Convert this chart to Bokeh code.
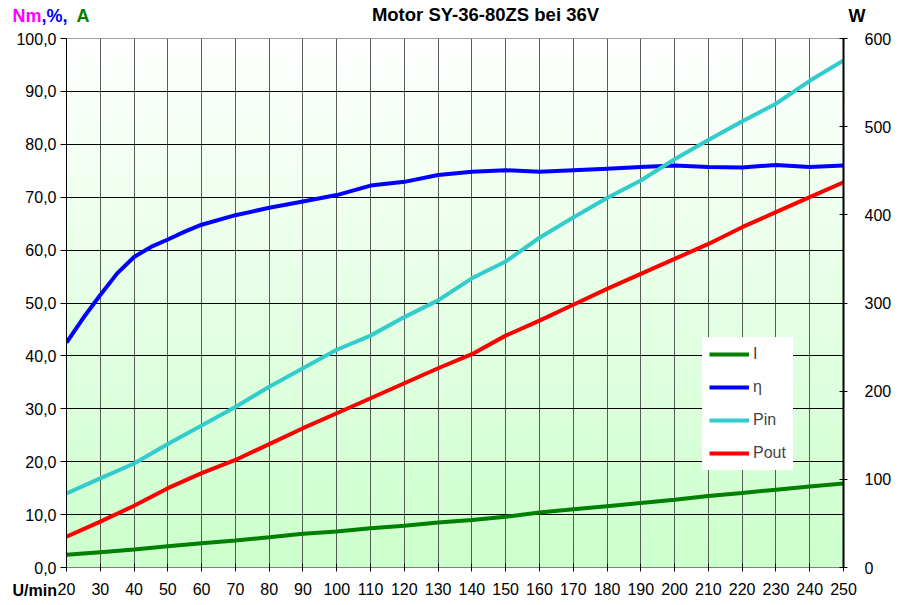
import numpy as np
from bokeh.plotting import figure
from bokeh.models import (Range1d, LinearAxis, SingleIntervalTicker, Legend, LegendItem)
from bokeh.core.properties import value
from bokeh.embed import file_html
from bokeh.resources import INLINE

# ---- data ----
rpm = [20, 30, 40, 50, 60, 70, 80, 90, 100, 110, 120, 130, 140, 150, 160, 170,
       180, 190, 200, 210, 220, 230, 240, 250]
current_A = [2.4, 2.9, 3.4, 4.0, 4.6, 5.1, 5.7, 6.4, 6.8, 7.4, 7.9, 8.5, 9.0, 9.6,
             10.4, 11.0, 11.6, 12.2, 12.8, 13.5, 14.1, 14.7, 15.3, 15.9]
eta_rpm = [20, 25, 30, 35, 40, 45, 50, 55, 60, 70, 80, 90, 100, 110, 120, 130, 140,
           150, 160, 170, 180, 190, 200, 210, 220, 230, 240, 250]
eta_pct = [42.5, 47.2, 51.5, 55.6, 58.7, 60.6, 62.0, 63.5, 64.8, 66.6, 68.0, 69.2,
           70.4, 72.2, 72.9, 74.2, 74.8, 75.1, 74.8, 75.1, 75.4, 75.7, 76.0, 75.7,
           75.6, 76.1, 75.7, 76.0]
pin_W = [84, 101, 118, 140, 161, 182, 205, 226, 247, 263, 284, 303, 328, 347, 374,
         397, 419, 439, 463, 485, 506, 526, 552, 575]
pout_W = [35, 52, 70, 90, 107, 122, 140, 158, 175, 192, 209, 226, 242, 263, 280,
          298, 316, 333, 350, 367, 386, 403, 420, 437]
left_ticks = [0, 10, 20, 30, 40, 50, 60, 70, 80, 90, 100]
left_tick_labels = ["0,0", "10,0", "20,0", "30,0", "40,0", "50,0", "60,0", "70,0",
                    "80,0", "90,0", "100,0"]
title_text = "Motor SY-36-80ZS bei 36V"

FONT = "Liberation Sans"
X0, X1 = 20, 250
Y0, Y1 = 0, 100
W0, W1 = 0, 600

W_PX, H_PX = 900, 605
B_LEFT, B_RIGHT, B_TOP, B_BOTTOM = 66, 57, 38, 38

p = figure(width=W_PX, height=H_PX, output_backend="svg", toolbar_location=None,
           x_range=Range1d(X0, X1), y_range=Range1d(Y0, Y1),
           min_border_left=B_LEFT, min_border_right=B_RIGHT, min_border_top=B_TOP,
           min_border_bottom=B_BOTTOM, title_location=None)
p.extra_y_ranges = {"W": Range1d(W0, W1)}
p.background_fill_color = "white"
p.border_fill_color = "white"
p.outline_line_color = "#808080"
p.outline_line_width = 1

# gradient background (white top -> light green bottom)
N = 200
img = np.empty((N, 1), dtype=np.uint32)
view = img.view(dtype=np.uint8).reshape((N, 1, 4))
t = np.linspace(0, 1, N)  # row 0 = bottom
top = np.array([255, 255, 255]); bot = np.array([204, 255, 204])
for i in range(N):
    c = bot + (top - bot) * t[i]
    view[i, 0, 0] = int(c[0]); view[i, 0, 1] = int(c[1]); view[i, 0, 2] = int(c[2]); view[i, 0, 3] = 255
p.image_rgba(image=[img], x=X0, y=Y0, dw=X1 - X0, dh=Y1 - Y0, level="image")

# axes
p.xaxis.ticker = SingleIntervalTicker(interval=10)
p.yaxis.ticker = left_ticks
p.yaxis.major_label_overrides = {v: s for v, s in zip(left_ticks, left_tick_labels)}
for ax in (p.xaxis[0], p.yaxis[0]):
    ax.major_label_text_font = FONT
    ax.major_label_text_font_size = "16px"
    ax.major_label_text_color = "black"
    ax.minor_tick_line_color = None
    ax.axis_line_color = "black"
    ax.major_tick_line_color = "black"
p.xaxis.axis_line_color = "#808080"
p.xaxis.major_tick_in = 4
p.xaxis.major_tick_out = 4
p.xaxis.major_label_standoff = 11
p.yaxis.major_tick_in = 0
p.yaxis.major_tick_out = 6
p.yaxis.major_label_standoff = 4

rax = LinearAxis(y_range_name="W", ticker=SingleIntervalTicker(interval=100))
rax.major_label_text_font = FONT
rax.major_label_text_font_size = "16px"
rax.major_label_text_color = "black"
rax.minor_tick_line_color = None
rax.major_tick_in = 4
rax.major_tick_out = 4
rax.major_label_standoff = 17
rax.axis_line_color = "black"
rax.axis_line_width = 2
p.add_layout(rax, "right")

p.xgrid.grid_line_color = "#333333"
p.xgrid.grid_line_alpha = 0.8
p.ygrid.grid_line_color = "black"
p.xgrid.ticker = SingleIntervalTicker(interval=10)
p.ygrid.ticker = left_ticks

# series
r_i = p.line(rpm, current_A, line_color="#008000", line_width=4)
r_eta = p.line(eta_rpm, eta_pct, line_color="#0000ff", line_width=4)
r_pin = p.line(rpm, pin_W, line_color="#33cccc", line_width=4, y_range_name="W")
r_pout = p.line(rpm, pout_W, line_color="#ff0000", line_width=4, y_range_name="W")

legend = Legend(items=[LegendItem(label="I", renderers=[r_i]),
                       LegendItem(label="η", renderers=[r_eta]),
                       LegendItem(label="Pin", renderers=[r_pin]),
                       LegendItem(label="Pout", renderers=[r_pout])],
                location=(636, 97), label_text_font=FONT, label_text_font_size="16px",
                glyph_width=40, glyph_height=20, label_height=20, spacing=13,
                label_standoff=4, padding=7, margin=0,
                border_line_alpha=0, background_fill_color="white",
                background_fill_alpha=1)
p.add_layout(legend, "center")

# texts outside the plot frame: text glyphs at "overlay" level (not clipped);
# positions given in canvas pixels, converted through the plot's ranges
frame_w = W_PX - B_LEFT - B_RIGHT
frame_h = H_PX - B_TOP - B_BOTTOM
def px_to_x(px):
    return X0 + (px - B_LEFT) * (X1 - X0) / frame_w
def py_to_y(py):
    return Y0 + (H_PX - B_BOTTOM - py) * (Y1 - Y0) / frame_h

def txt(px, py, text, color="black", size="16px", align="left"):
    p.text(x=[px_to_x(px)], y=[py_to_y(py)], text=[text], text_color=color,
           text_font=value(FONT), text_font_size=size, text_font_style="bold",
           text_align=align, text_baseline="middle", level="overlay")

txt(485, 14, title_text, size="18.5px", align="center")
txt(12, 15, "Nm", color="#ff00ff", size="18px")
txt(41, 15, ",%,", color="#0000ff", size="18px")
txt(76, 15, "A", color="#008000", size="18px")
txt(848, 15, "W", size="18px")
txt(12, 590, "U/min", size="16px")

open("out.html", "w").write(file_html(p, INLINE))
